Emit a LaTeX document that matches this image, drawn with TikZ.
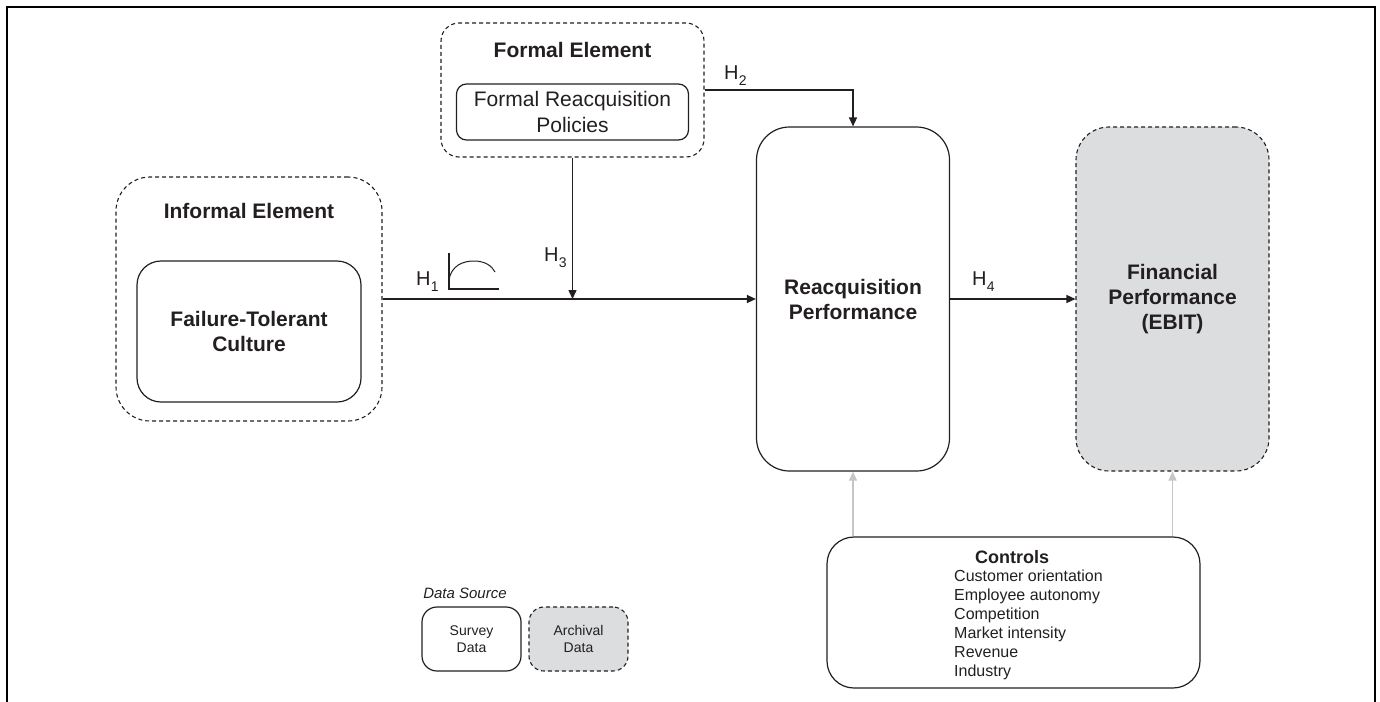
\documentclass[tikz,border=0pt]{standalone}
\usepackage{fontspec}
\setmainfont{Liberation Sans}
\usetikzlibrary{arrows.meta}
\definecolor{ink}{RGB}{35,31,32}
\definecolor{boxgray}{RGB}{220,221,223}
\definecolor{ctrlgray}{RGB}{198,198,198}
\newcommand{\Hs}[1]{H\kern0.3pt\raisebox{-0.32em}{\fontsize{14}{14}\selectfont #1}}
\begin{document}
\begin{tikzpicture}[x=1pt,y=-1pt,
  every node/.style={text=ink},
  solidbox/.style={draw=ink, line width=1.2pt, inner sep=0pt, align=center},
  dashbox/.style={draw=ink, line width=1.1pt, dash pattern=on 4pt off 3pt, inner sep=0pt, align=center},
  graybox/.style={dashbox, fill=boxgray},
  titlefont/.style={font=\fontsize{21}{25}\selectfont\bfseries},
  bodyfont/.style={font=\fontsize{21}{26}\selectfont},
  arr/.style={draw=ink, line width=1.4pt, -{Triangle[length=9pt,width=8pt]}},
  ctrlarr/.style={draw=ctrlgray, line width=1.4pt, -{Triangle[length=9pt,width=8pt]}},
  hlabel/.style={anchor=base west, inner sep=0pt, font=\fontsize{20}{20}\selectfont}
]
\useasboundingbox (0,0) rectangle (1380,701);
% frame
\draw[line width=2.6pt, black] (7,705) -- (7,7) -- (1375,7) -- (1375,705);

% informal element
\node[dashbox, rounded corners=34pt, minimum width=266pt, minimum height=244pt] (inf) at (249,299) {};
\node[titlefont, inner sep=0pt] (inftitle) at (249,211) {Informal Element};
\node[solidbox, titlefont, rounded corners=24pt, minimum width=224pt, minimum height=141pt] (ftc) at (249,331.5) {Failure-Tolerant\\Culture};

% formal element
\node[dashbox, rounded corners=18pt, minimum width=263pt, minimum height=134pt] (formal) at (572.5,90) {};
\node[titlefont, inner sep=0pt] (formaltitle) at (572.5,50) {Formal Element};
\node[solidbox, bodyfont, rounded corners=10pt, minimum width=232pt, minimum height=56pt] (frp) at (572.5,112) {Formal Reacquisition\\Policies};

% reacquisition performance
\node[solidbox, titlefont, rounded corners=33pt, minimum width=193pt, minimum height=344pt] (reacq) at (853,299) {Reacquisition\\Performance};

% financial performance
\node[graybox, titlefont, rounded corners=33pt, minimum width=193pt, minimum height=344pt] (fin) at (1172.5,299) {Financial\\Performance\\(EBIT)};

% controls
\node[solidbox, rounded corners=27pt, minimum width=373pt, minimum height=151pt] (ctrl) at (1013.5,612.5) {};
\node[inner sep=0pt, font=\fontsize{18}{18}\selectfont\bfseries] (ctrltitle) at (1012,557) {Controls};
\node[anchor=north west, inner sep=0pt, align=left, font=\fontsize{16}{19}\selectfont] (ctrllist) at (954,570) {Customer orientation\\Employee autonomy\\Competition\\Market intensity\\Revenue\\Industry};

% data source legend
\node[inner sep=0pt, font=\fontsize{15}{15}\selectfont\itshape] (dstitle) at (465,593) {Data Source};
\node[solidbox, rounded corners=15pt, minimum width=99pt, minimum height=64pt, font=\fontsize{14}{17}\selectfont] (survey) at (471.5,639) {Survey\\Data};
\node[graybox, rounded corners=15pt, minimum width=99pt, minimum height=64pt, font=\fontsize{14}{17}\selectfont] (archival) at (578.5,639) {Archival\\Data};

% connectors
\draw[arr] (inf.east) -- (reacq.west |- inf.east);
\draw[arr] (formal.south) -- (formal.south |- inf.east);
\draw[arr] (formal.east) -| (reacq.north);
\draw[arr] (reacq.east) -- (fin.west);
\draw[ctrlarr] (ctrl.north -| reacq.south) -- (reacq.south);
\draw[ctrlarr] (ctrl.north -| fin.south) -- (fin.south);

% labels
\node[hlabel] (h1) at (416,285) {\Hs{1}};
\node[hlabel] (h2) at (724,79) {\Hs{2}};
\node[hlabel] (h3) at (544,261) {\Hs{3}};
\node[hlabel] (h4) at (972,285) {\Hs{4}};

% inverted-U icon for H1
\draw[ink, line width=1.2pt] (449,253) -- (449,289) -- (499,289);
\draw[ink, line width=1pt] (449,279) .. controls (452,266) and (462,261) .. (474,261) .. controls (485,261) and (492,266) .. (495,272);
\end{tikzpicture}
\end{document}
